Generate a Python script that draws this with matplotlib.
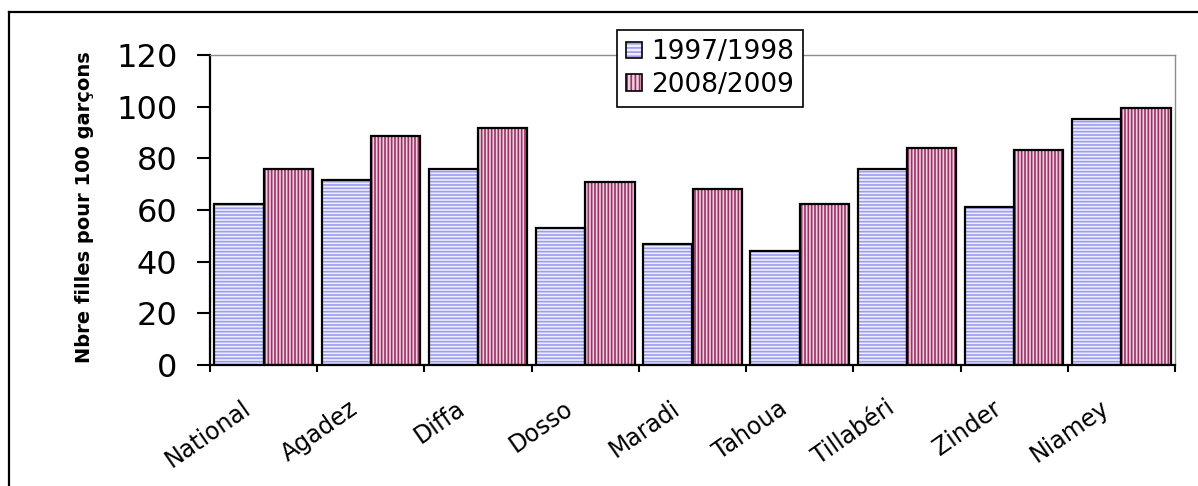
import numpy as np
import matplotlib
matplotlib.use("Agg")
import matplotlib.pyplot as plt
from matplotlib.patches import Patch
from matplotlib.legend_handler import HandlerTuple
from matplotlib.lines import Line2D
from matplotlib.transforms import ScaledTranslation

# data (girls per 100 boys)
regions = ["National", "Agadez", "Diffa", "Dosso", "Maradi", "Tahoua", "Tillabéri", "Zinder", "Niamey"]
y1997 = [62.4, 71.6, 76.0, 53.2, 46.8, 44.0, 76.0, 61.3, 95.2]
y2009 = [76.0, 88.8, 91.6, 71.0, 68.1, 62.4, 83.9, 83.2, 99.5]
labels = ["1997/1998", "2008/2009"]

BLUE_FACE, BLUE_HATCH = "#eeeeff", "#9c9cf0"
RED_FACE, RED_HATCH = "#efcfe0", "#993366"

plt.rcParams["hatch.linewidth"] = 1.2

fig = plt.figure(figsize=(11.98, 4.86), dpi=100)
ax = fig.add_axes([210 / 1198, 1 - 365 / 486, 965 / 1198, 310 / 486])

x = np.arange(len(regions))
w = 0.46


def hatched_bars(xs, vals, face, hcol, hatch):
    ax.bar(xs, vals, w, color=face, linewidth=0, zorder=2)
    ax.bar(xs, vals, w, facecolor="none", edgecolor=hcol, hatch=hatch, linewidth=0, zorder=3)
    ax.bar(xs, vals, w, fill=False, edgecolor="black", linewidth=1.6, zorder=4)


hatched_bars(x - w / 2, y1997, BLUE_FACE, BLUE_HATCH, "-----")
hatched_bars(x + w / 2, y2009, RED_FACE, RED_HATCH, "|||||")

ax.set_xlim(-0.5, len(regions) - 0.5)
ax.set_ylim(0, 120)
ax.set_yticks(np.arange(0, 121, 20))
ax.tick_params(axis="y", labelsize=23, length=9.5, width=1.5, pad=14)

# ticks at category boundaries, labels centred
ax.set_xticks(np.arange(len(regions) + 1) - 0.5)
ax.set_xticklabels([])
ax.tick_params(axis="x", length=5, width=1.5)
off = ScaledTranslation(-22 / 100, -31 / 100, fig.dpi_scale_trans)
for i, name in enumerate(regions):
    ax.text(i, 0, name, transform=ax.get_xaxis_transform() + off, rotation=35,
            ha="right", va="top", rotation_mode="anchor", fontsize=17)

for s in ["left", "bottom"]:
    ax.spines[s].set_linewidth(1.6)
    ax.spines[s].set_color("black")
for s in ["top", "right"]:
    ax.spines[s].set_linewidth(1.0)
    ax.spines[s].set_color("#8c8c8c")

fig.text(85 / 1198, 1 - 207 / 486, "Nbre filles pour 100 garçons", rotation=90,
         ha="center", va="center", fontsize=14, fontweight="bold")

# legend with small hatched squares
h1 = (Patch(facecolor=BLUE_FACE, edgecolor=BLUE_HATCH, hatch="----", linewidth=0),
      Patch(fill=False, edgecolor="black", linewidth=1.2))
h2 = (Patch(facecolor=RED_FACE, edgecolor=RED_HATCH, hatch="||||", linewidth=0),
      Patch(fill=False, edgecolor="black", linewidth=1.2))
leg = fig.legend([h1, h2], labels, handler_map={tuple: HandlerTuple(ndivide=1, pad=0)},
                 loc="upper left", bbox_to_anchor=(617 / 1198, 1 - 30 / 486),
                 fontsize=19, handlelength=0.6, handleheight=0.6, handletextpad=0.35,
                 labelspacing=0.25, borderpad=0.35, borderaxespad=0, fancybox=False,
                 framealpha=1, edgecolor="black")
leg.get_frame().set_linewidth(1.2)

# outer frame of the embedded chart
fig.add_artist(Line2D([9 / 1198, 9 / 1198], [0, 1 - 12 / 486], transform=fig.transFigure,
                      color="black", lw=1.6))
fig.add_artist(Line2D([9 / 1198, 1], [1 - 12 / 486, 1 - 12 / 486], transform=fig.transFigure,
                      color="black", lw=1.6))

fig.savefig("out.png", dpi=100)
